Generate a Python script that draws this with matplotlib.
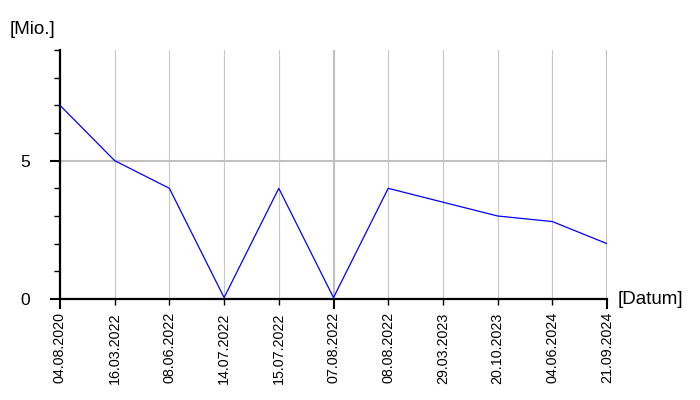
import matplotlib
matplotlib.use("Agg")
import matplotlib.pyplot as plt

plt.rcParams['font.family'] = ['Liberation Sans', 'DejaVu Sans']

fechas = ["04.08.2020", "16.03.2022", "08.06.2022", "14.07.2022", "15.07.2022",
          "07.08.2022", "08.08.2022", "29.03.2023", "20.10.2023", "04.06.2024",
          "21.09.2024"]
valores = [7.0, 5.0, 4.0, 0.05, 4.0, 0.05, 4.0, 3.5, 3.0, 2.8, 2.0]

fig = plt.figure(figsize=(7, 4), dpi=100)
ax = fig.add_axes([60/700, 1-299/400, 547/700, 249/400])

x = list(range(len(fechas)))
ax.plot(x, valores, color='#0000ff', linewidth=0.9, zorder=3)

ax.set_xlim(0, len(fechas)-1)
ax.set_ylim(0, 9)

# ticks mayores cada 5 fechas, menores el resto
mayores = [i for i in x if i % 5 == 0]
menores = [i for i in x if i % 5 != 0]
ax.set_xticks(mayores, [fechas[i] for i in mayores], rotation=90)
ax.set_xticks(menores, [fechas[i] for i in menores], rotation=90, minor=True)
ax.set_yticks([0, 5], ["0", "5"])
ax.set_yticks([1, 2, 3, 4, 6, 7, 8, 9], minor=True)

ax.tick_params(axis='x', which='major', length=7.5, width=1.5, pad=2, labelsize=10.3)
ax.tick_params(axis='x', which='minor', length=4, width=1, pad=5.5, labelsize=10.3)
ax.tick_params(axis='y', which='major', length=7.5, width=1.5, pad=14, labelsize=12.5)
ax.tick_params(axis='y', which='minor', length=4, width=1)

ax.grid(True, which='major', axis='both', color='#c0c0c0', linewidth=1.5, zorder=0)
ax.grid(True, which='minor', axis='x', color='#c8c8c8', linewidth=0.8, zorder=0)

for s in ['top', 'right']:
    ax.spines[s].set_visible(False)
for s in ['left', 'bottom']:
    ax.spines[s].set_linewidth(1.6)

ax.text(1.02, 0, "[Datum]", transform=ax.transAxes, ha='left', va='center', fontsize=13.5)
fig.text(10/700, 1-30/400, "[Mio.]", ha='left', va='center', fontsize=13.5)

fig.savefig("out.png", dpi=100)
